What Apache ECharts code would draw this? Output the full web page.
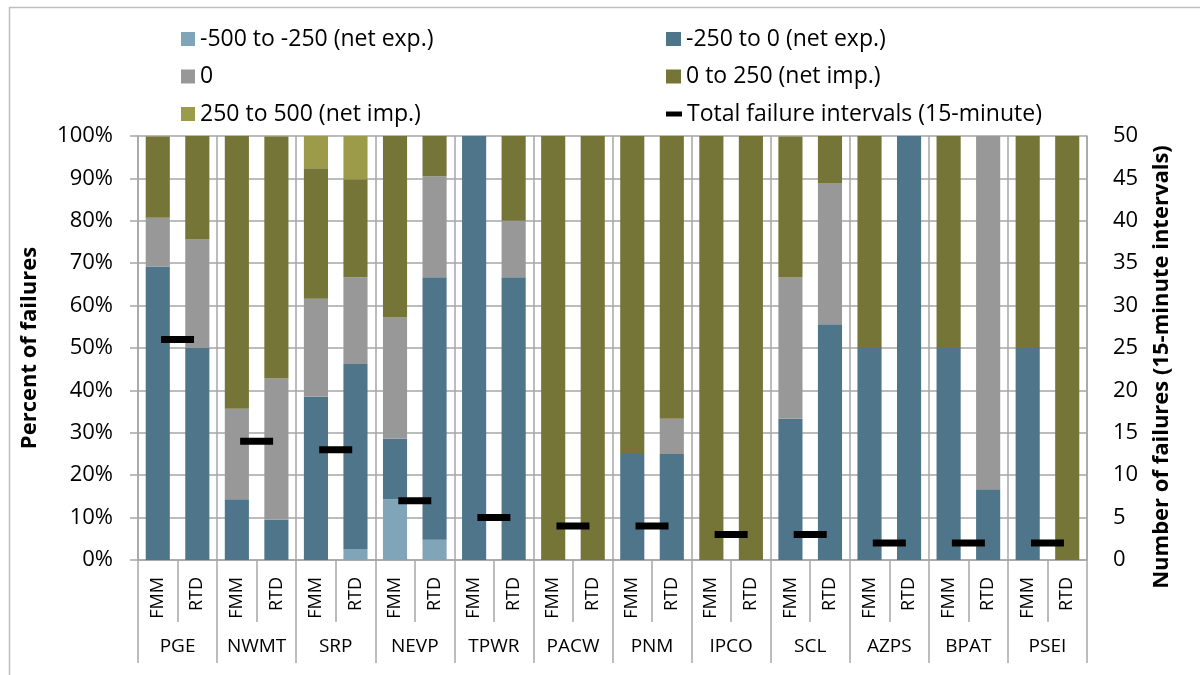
<!DOCTYPE html>
<html>
<head>
<meta charset="utf-8">
<title>Failures by net interchange band</title>
<script src="https://cdn.jsdelivr.net/npm/echarts@6/dist/echarts.min.js"></script>
<style>
  html, body { margin: 0; padding: 0; background: #fff; }
  #chart { width: 1200px; height: 675px; }
</style>
</head>
<body>
<div id="chart"></div>
<script>
// Balancing authorities and the two markets shown for each
const groups = ['PGE', 'NWMT', 'SRP', 'NEVP', 'TPWR', 'PACW', 'PNM', 'IPCO', 'SCL', 'AZPS', 'BPAT', 'PSEI'];
const markets = ['FMM', 'RTD'];

// Percent of failures in each net interchange band, ordered FMM, RTD per group
const exp500 = [0, 0, 0, 0, 0, 2.6, 14.3, 4.8, 0, 0, 0, 0, 0, 0, 0, 0, 0, 0, 0, 0, 0, 0, 0, 0];
const exp250 = [69.2, 50, 14.3, 9.5, 38.5, 43.6, 14.3, 61.9, 100, 66.7, 0, 0, 25, 25, 0, 0, 33.3, 55.6, 50, 100, 50, 16.7, 50, 0];
const zeroBand = [11.5, 25.6, 21.4, 33.3, 23.1, 20.5, 28.6, 23.8, 0, 13.3, 0, 0, 0, 8.3, 0, 0, 33.3, 33.3, 0, 0, 0, 83.3, 0, 0];
const imp250 = [19.2, 24.4, 64.3, 57.1, 30.8, 23.1, 42.9, 9.5, 0, 20, 100, 100, 75, 66.7, 100, 100, 33.3, 11.1, 50, 0, 50, 0, 50, 100];
const imp500 = [0, 0, 0, 0, 7.7, 10.3, 0, 0, 0, 0, 0, 0, 0, 0, 0, 0, 0, 0, 0, 0, 0, 0, 0, 0];

// Total 15-minute failure intervals per group
const totalFailures = [26, 14, 13, 7, 5, 4, 4, 3, 3, 2, 2, 2];

const bandNames = ['-500 to -250 (net exp.)', '-250 to 0 (net exp.)', '0', '0 to 250 (net imp.)', '250 to 500 (net imp.)'];
const totalName = 'Total failure intervals (15-minute)';
const bandColors = ['#80a5b9', '#4f758b', '#989898', '#747537', '#9b9b49'];
const bandValues = [exp500, exp250, zeroBand, imp250, imp500];

const marketLabels = [];
groups.forEach(function () { markets.forEach(function (m) { marketLabels.push(m); }); });

const FONT = 'Open Sans';
const GRID_COLOR = '#a6a6a6';

const chart = echarts.init(document.getElementById('chart'), null, { renderer: 'canvas' });

const barSeries = bandNames.map(function (name, i) {
  return {
    name: name,
    type: 'bar',
    stack: 'share',
    xAxisIndex: 0,
    yAxisIndex: 0,
    barWidth: '61%',
    itemStyle: { color: bandColors[i] },
    data: bandValues[i]
  };
});

const legendText = { fontFamily: FONT, fontSize: 23, color: '#000', lineHeight: 24 };

chart.setOption({
  animation: false,
  backgroundColor: '#fff',
  graphic: [{
    type: 'rect',
    left: 7, top: 5,
    shape: { width: 1200, height: 700 },
    style: { fill: 'none', stroke: '#bfbfbf', lineWidth: 1.5 },
    silent: true
  }],
  legend: [
    {
      orient: 'vertical', left: 176, top: 22,
      itemWidth: 14, itemHeight: 14, itemGap: 13.5,
      icon: 'rect',
      data: [bandNames[0], bandNames[2], bandNames[4]],
      textStyle: legendText
    },
    {
      orient: 'vertical', left: 661, top: 22,
      itemWidth: 15, itemHeight: 14, itemGap: 13.5,
      icon: 'rect',
      data: [bandNames[1], bandNames[3]],
      textStyle: legendText
    },
    {
      orient: 'vertical', left: 661, top: 97,
      itemWidth: 16, itemHeight: 5,
      icon: 'rect',
      data: [totalName],
      itemStyle: { opacity: 1 },
      textStyle: legendText
    }
  ],
  grid: { left: 138, right: 113, top: 136, bottom: 115, containLabel: false },
  xAxis: [
    {
      type: 'category',
      data: marketLabels,
      position: 'bottom',
      axisLine: { show: true, lineStyle: { color: GRID_COLOR, width: 1.5 } },
      axisTick: { show: true, interval: 0, length: 62, lineStyle: { color: GRID_COLOR, width: 1.5 } },
      axisLabel: { interval: 0, rotate: 90, margin: 17, fontFamily: FONT, fontSize: 18, color: '#000' },
      splitLine: { show: false }
    },
    {
      type: 'category',
      data: groups,
      position: 'bottom',
      axisLine: { show: false },
      axisTick: { show: true, interval: 0, length: 103, lineStyle: { color: GRID_COLOR, width: 1.5 } },
      axisLabel: { interval: 0, margin: 77, fontFamily: FONT, fontSize: 19, color: '#000' },
      splitLine: { show: true, interval: 0, lineStyle: { color: GRID_COLOR, width: 1.5 } }
    }
  ],
  yAxis: [
    {
      type: 'value',
      min: 0, max: 100, interval: 10,
      name: 'Percent of failures',
      nameLocation: 'middle',
      nameRotate: 90,
      nameGap: 97,
      nameTextStyle: { fontFamily: FONT, fontSize: 22, fontWeight: 'bold', color: '#000' },
      axisLine: { show: true, lineStyle: { color: GRID_COLOR, width: 1.5 } },
      axisTick: { show: true, length: 8, lineStyle: { color: GRID_COLOR, width: 1.5 } },
      axisLabel: { formatter: '{value}%', margin: 25, fontFamily: FONT, fontSize: 22, color: '#000' },
      splitLine: { show: true, lineStyle: { color: GRID_COLOR, width: 1.5 } }
    },
    {
      type: 'value',
      min: 0, max: 50, interval: 5,
      position: 'right',
      name: 'Number of failures (15-minute intervals)',
      nameLocation: 'middle',
      nameRotate: 90,
      nameGap: 64,
      nameTextStyle: { fontFamily: FONT, fontSize: 22, fontWeight: 'bold', color: '#000', padding: [0, 38, 0, 0] },
      axisLine: { show: true, lineStyle: { color: GRID_COLOR, width: 1.5 } },
      axisTick: { show: false },
      axisLabel: { margin: 26, fontFamily: FONT, fontSize: 22, color: '#000' },
      splitLine: { show: false }
    }
  ],
  series: barSeries.concat([{
    name: totalName,
    type: 'scatter',
    xAxisIndex: 1,
    yAxisIndex: 1,
    symbol: 'rect',
    symbolSize: [33, 7],
    itemStyle: { color: '#000', opacity: 1 },
    z: 5,
    data: totalFailures
  }])
});
</script>
</body>
</html>
